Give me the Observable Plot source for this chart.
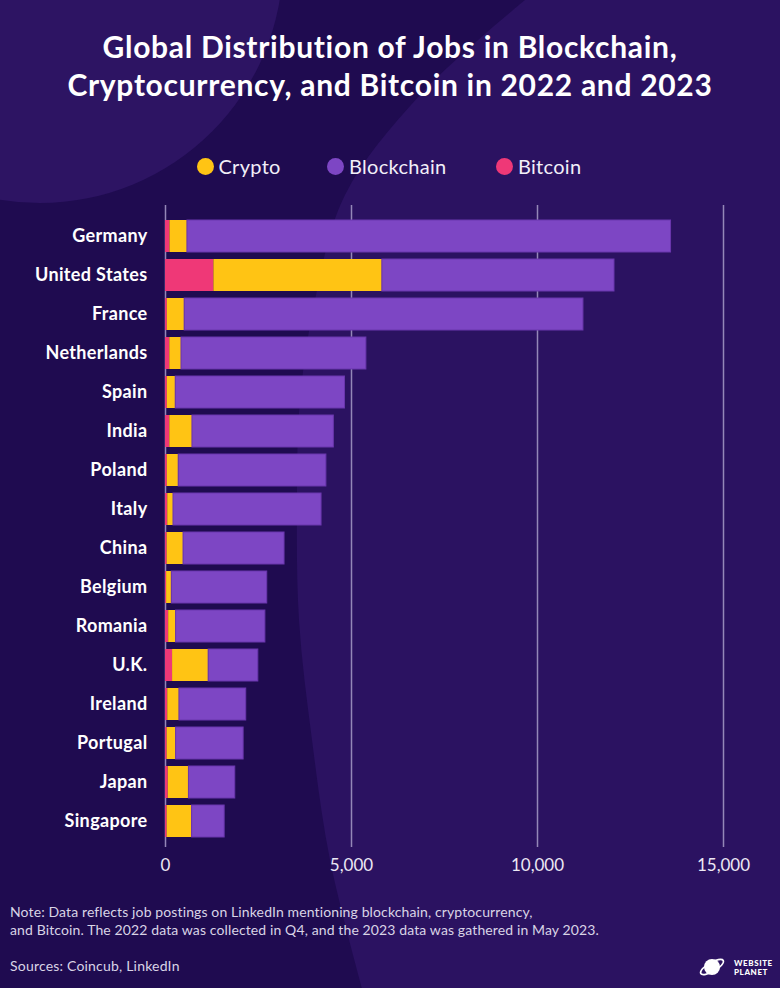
<!DOCTYPE html>
<html>
<head>
<meta charset="utf-8">
<script src="https://cdn.jsdelivr.net/npm/d3@7"></script>
<script src="https://cdn.jsdelivr.net/npm/@observablehq/plot@0.6"></script>
<style>
  html, body { margin: 0; padding: 0; }
  body { width: 780px; height: 988px; overflow: hidden; font-family: Lato, "Open Sans", sans-serif; }
  #page { position: relative; width: 780px; height: 988px; background: #2b1261; overflow: hidden; }
  #bg { position: absolute; left: 0; top: 0; }
  #title { position: absolute; left: 0; top: 27px; width: 780px; text-align: center; color: #fff;
           font-weight: 700; font-size: 30px; letter-spacing: 0.7px; line-height: 38px; }
  .leg { position: absolute; top: 153px; height: 26px; line-height: 26px; color: #f2eff8; font-size: 20px; letter-spacing: 0.3px; white-space: nowrap; }
  .dot { position: absolute; width: 17px; height: 17px; border-radius: 50%; top: 4.5px; }
  #chart { position: absolute; left: 0; top: 195px; }
  #note { position: absolute; left: 10px; top: 903px; color: #d9d4e6; font-size: 14px; letter-spacing: 0.12px; line-height: 18px; }
  #src { position: absolute; left: 10px; top: 957px; color: #d9d4e6; font-size: 14px; letter-spacing: 0.2px; line-height: 18px; }
  #logo { position: absolute; left: 698px; top: 952px; }
</style>
</head>
<body>
<div id="page">
  <svg id="bg" width="780" height="988"></svg>
  <div id="title">Global Distribution of Jobs in Blockchain,<br>Cryptocurrency, and Bitcoin in 2022 and 2023</div>
  <div id="legend"></div>
  <div id="chart"></div>
  <div id="note">Note: Data reflects job postings on LinkedIn mentioning blockchain, cryptocurrency,<br>and Bitcoin. The 2022 data was collected in Q4, and the 2023 data was gathered in May 2023.</div>
  <div id="src">Sources: Coincub, LinkedIn</div>
  <svg id="logo" width="80" height="30">
    <circle cx="14" cy="15" r="8" fill="#fff"></circle>
    <ellipse cx="14" cy="15" rx="13" ry="4.5" fill="none" stroke="#fff" stroke-width="1.6" transform="rotate(-30 14 15)"></ellipse>
    <text x="36" y="14" fill="#fff" font-size="8" font-weight="900" letter-spacing="0.6">WEBSITE</text>
    <text x="36" y="23" fill="#fff" font-size="8" font-weight="900" letter-spacing="0.6">PLANET</text>
  </svg>
</div>
<script>
// ---- data ----
const countries = ["Germany","United States","France","Netherlands","Spain","India","Poland","Italy","China","Belgium","Romania","U.K.","Ireland","Portugal","Japan","Singapore"];
const bitcoin    = [120, 1300,   50,  115,   50,  115,   50,   60,   45,   30,   85,  190,   60,   45,   75,   45];
const crypto     = [470, 4530,  465,  315,  225,  610,  305,  155,  440,  140,  200,  970,  315,  240,  555,  670];
const blockchain = [13000, 6240, 10720, 4970, 4550, 3800, 3970, 3980, 2715, 2565, 2400, 1335, 1795, 1815, 1245, 875];
const seriesNames = ["Bitcoin", "Crypto", "Blockchain"];
const seriesColors = ["#ef3877", "#ffc414", "#7d46c4"];
const legendOrder = ["Crypto", "Blockchain", "Bitcoin"];
const xTicks = [0, 5000, 10000, 15000];

// ---- background decoration ----
const bg = d3.select("#bg");
bg.append("rect").attr("width", 780).attr("height", 988).attr("fill", "#1f0b50");
const edge = [[525,0],[420,95],[345,195],[315,300],[300,400],[297,500],[299,620],[312,740],[330,860],[362,988]];
const lineGen = d3.line().curve(d3.curveCatmullRom);
bg.append("path").attr("d", lineGen(edge) + "L780,988L780,0Z").attr("fill", "#2b1261");
bg.append("circle").attr("cx", 40).attr("cy", -40).attr("r", 243).attr("fill", "#2d1463");

// ---- legend ----
const legendX = { Crypto: 196.5, Blockchain: 327, Bitcoin: 496 };
const leg = d3.select("#legend");
legendOrder.forEach(name => {
  const item = leg.append("div").attr("class", "leg").style("left", legendX[name] + "px");
  item.append("span").attr("class", "dot").style("left", "0px")
      .style("background", seriesColors[seriesNames.indexOf(name)]);
  item.append("span").style("margin-left", "22px").text(name);
});

// ---- chart ----
const rows = [];
countries.forEach((c, i) => {
  rows.push({country: c, series: "Bitcoin", value: bitcoin[i]});
  rows.push({country: c, series: "Crypto", value: crypto[i]});
  rows.push({country: c, series: "Blockchain", value: blockchain[i]});
});

const chart = Plot.plot({
  width: 780,
  height: 692,
  marginTop: 10,
  marginBottom: 40,
  marginLeft: 165,
  marginRight: 57,
  style: { background: "transparent", color: "#ffffff", fontFamily: "Lato, sans-serif", fontSize: "17px", overflow: "visible" },
  x: { domain: [0, 15000], ticks: xTicks, tickFormat: d3.format(","), tickSize: 0, tickPadding: 11, label: null },
  y: { domain: countries, paddingInner: 0.173, paddingOuter: 0.2755, align: 0.62, tickSize: 0, tickPadding: 18, label: null },
  color: { domain: seriesNames, range: seriesColors },
  marks: [
    Plot.ruleX(xTicks, { x: d => d, stroke: "#9487b8", strokeWidth: 1.5 }),
    Plot.barX(rows, Plot.stackX({
      x: "value", y: "country", fill: "series", z: "series", order: seriesNames,
      stroke: d => d.series === "Blockchain" ? "#6a36ad" : "none", strokeWidth: 1
    }))
  ]
});
document.getElementById("chart").appendChild(chart);

// axis text styling
const svg = d3.select(chart);
svg.selectAll('g[aria-label^="y-axis"] text').attr("font-weight", 700).attr("fill", "#ffffff")
   .attr("font-size", "18px").attr("letter-spacing", "0.35px");
svg.selectAll('g[aria-label^="x-axis"] text').attr("fill", "#ece8f4");
</script>
</body>
</html>
